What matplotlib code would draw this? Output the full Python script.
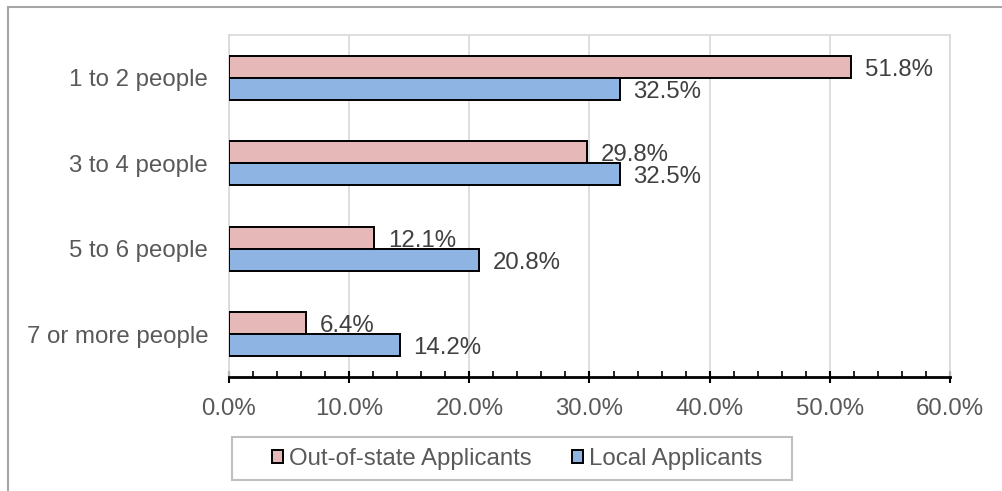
import matplotlib.pyplot as plt
from matplotlib.patches import Rectangle
from matplotlib.ticker import MultipleLocator, FuncFormatter
import numpy as np

categories = ['1 to 2 people', '3 to 4 people', '5 to 6 people', '7 or more people']
out_of_state = [51.8, 29.8, 12.1, 6.4]
local = [32.5, 32.5, 20.8, 14.2]
series_names = ['Out-of-state Applicants', 'Local Applicants']

plt.rcParams['font.family'] = ['Liberation Sans', 'DejaVu Sans']
fs = 17.3

fig = plt.figure(figsize=(10.03, 4.91), dpi=100)
ax = fig.add_axes([229/1003, 1-377/491, (950-229)/1003, (377-35)/491])

# outer chart border (only top/left visible in the frame)
fig.patches.append(Rectangle((8.5/1003, -0.1), 1.2, 1-6.5/491+0.1, transform=fig.transFigure,
                             fill=False, edgecolor='#A6A6A6', linewidth=1.5))
# legend box
fig.patches.append(Rectangle((232/1003, 1-480/491), 560/1003, 43/491, transform=fig.transFigure,
                             fill=False, edgecolor='#BFBFBF', linewidth=1.5))

y = np.arange(len(categories))
h = 0.257
b1 = ax.barh(y - h/2, out_of_state, height=h, color='#E6B9B8', edgecolor='black',
             linewidth=1.4, label=series_names[0], zorder=3)
b2 = ax.barh(y + h/2, local, height=h, color='#8EB4E3', edgecolor='black',
             linewidth=1.4, label=series_names[1], zorder=3)

for bars, vals in [(b1, out_of_state), (b2, local)]:
    for rect, v in zip(bars, vals):
        ax.annotate('%.1f%%' % v, (v, rect.get_y() + rect.get_height()/2),
                    xytext=(10, -2), textcoords='offset points', va='center', ha='left',
                    fontsize=fs, color='#404040')

ax.set_ylim(len(categories) - 0.5, -0.5)
ax.set_xlim(0, 60)
ax.set_yticks(y)
ax.set_yticklabels(categories)
ax.xaxis.set_major_locator(MultipleLocator(10))
ax.xaxis.set_minor_locator(MultipleLocator(2))
ax.xaxis.set_major_formatter(FuncFormatter(lambda v, p: '%.1f%%' % v))
ax.tick_params(axis='y', length=0, pad=15, labelsize=fs, labelcolor='#595959')
ax.tick_params(axis='x', which='major', direction='inout', length=8, width=1.5,
               pad=11, labelsize=fs, labelcolor='#595959')
ax.tick_params(axis='x', which='minor', direction='in', length=4, width=1.2)
ax.grid(axis='x', color='#D9D9D9', linewidth=1.2, zorder=0)
for s in ['top', 'left', 'right']:
    ax.spines[s].set_color('#D9D9D9')
    ax.spines[s].set_linewidth(1.2)
ax.spines['bottom'].set_color('black')
ax.spines['bottom'].set_linewidth(2)
ax.spines['bottom'].set_zorder(5)

leg = fig.legend(handles=[b1, b2], loc='center', bbox_to_anchor=(517/1003, 1-459/491),
                 ncol=2, fontsize=fs, frameon=False,
                 handlelength=0.46, handleheight=0.46, handletextpad=0.25, columnspacing=1.7,
                 labelcolor='#595959')
for p in leg.get_patches():
    p.set_linewidth(1.4)

plt.savefig('out.png', dpi=100)
